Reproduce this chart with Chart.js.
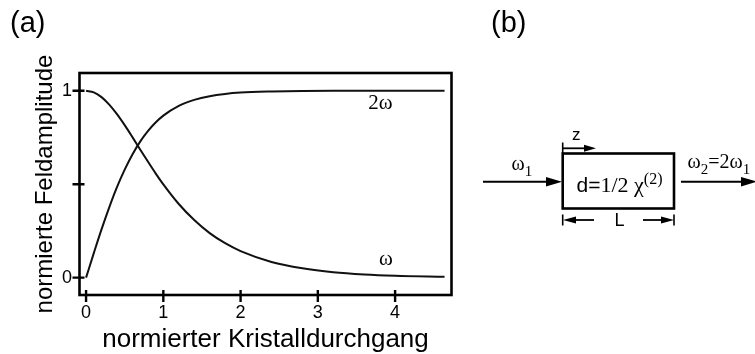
<!DOCTYPE html>
<html>
<head>
<meta charset="utf-8">
<script src="https://cdn.jsdelivr.net/npm/chart.js@4.4.1/dist/chart.umd.min.js"></script>
<style>
  html, body { margin: 0; padding: 0; background: #fff; }
  #wrap { position: relative; width: 755px; height: 354px; overflow: hidden; }
  #box { position: absolute; left: 0; top: 0; width: 460px; height: 354px; }
  #diagram { position: absolute; left: 0; top: 0; }
</style>
</head>
<body>
<div id="wrap">
  <div id="box"><canvas id="grafico"></canvas></div>
  <svg id="diagram" width="755" height="354" xmlns="http://www.w3.org/2000/svg">
    <text x="10" y="32" font-family="Liberation Sans, Arial, sans-serif" font-size="29">(a)</text>
    <text x="491" y="32" font-family="Liberation Sans, Arial, sans-serif" font-size="29">(b)</text>

    <!-- Kristall -->
    <rect x="562.7" y="153.5" width="111.3" height="55" fill="none" stroke="#000" stroke-width="2.6"/>
    <text x="576.5" y="192" font-family="Liberation Sans, Arial, sans-serif" font-size="21">d=<tspan font-family="Liberation Serif, Times New Roman, serif" font-size="22">1/2 χ</tspan><tspan font-family="Liberation Serif, Times New Roman, serif" font-size="16" dy="-8">(2)</tspan></text>

    <!-- z -->
    <text x="572" y="139.5" font-family="Liberation Sans, Arial, sans-serif" font-size="17">z</text>
    <line x1="562.7" y1="142.5" x2="562.7" y2="153" stroke="#000" stroke-width="1.6"/>
    <line x1="562.7" y1="148.3" x2="586" y2="148.3" stroke="#000" stroke-width="1.8"/>
    <polygon points="596,148.3 584,144.8 584,151.8" fill="#000"/>

    <!-- L -->
    <line x1="562.7" y1="214.5" x2="562.7" y2="225.5" stroke="#000" stroke-width="1.6"/>
    <polygon points="563,220 576,216.5 576,223.5" fill="#000"/>
    <line x1="575" y1="220" x2="594" y2="220" stroke="#000" stroke-width="1.8"/>
    <line x1="643" y1="220" x2="662" y2="220" stroke="#000" stroke-width="1.8"/>
    <polygon points="674,220 661,216.5 661,223.5" fill="#000"/>
    <line x1="674" y1="214.5" x2="674" y2="225.5" stroke="#000" stroke-width="1.6"/>
    <text x="614.5" y="225.5" font-family="Liberation Sans, Arial, sans-serif" font-size="18">L</text>

    <!-- Eingang -->
    <line x1="483" y1="181.7" x2="548" y2="181.7" stroke="#000" stroke-width="2"/>
    <polygon points="562,181.7 546,177 546,186.4" fill="#000"/>
    <text x="511.5" y="170" font-family="Liberation Serif, Times New Roman, serif" font-size="20">ω<tspan font-size="15" dy="6">1</tspan></text>

    <!-- Ausgang -->
    <line x1="681" y1="181.7" x2="742" y2="181.7" stroke="#000" stroke-width="2"/>
    <polygon points="757,181.7 741,177 741,186.4" fill="#000"/>
    <text x="687.5" y="168" font-family="Liberation Serif, Times New Roman, serif" font-size="20">ω<tspan font-size="15" dy="6">2</tspan><tspan dy="-6">=2ω</tspan><tspan font-size="15" dy="6">1</tspan></text>
  </svg>
</div>

<script>
// ── Daten ──────────────────────────────────────────────
var durchgang   = [0, 0.1, 0.2, 0.3, 0.4, 0.5, 0.6, 0.7, 0.8, 0.9, 1.0, 1.2, 1.4, 1.6, 1.8, 2.0, 2.4, 2.8, 3.2, 3.6, 4.0, 4.64];
var grundwelle  = [1.0, 0.991, 0.966, 0.926, 0.875, 0.816, 0.752, 0.686, 0.621, 0.558, 0.499, 0.394, 0.308, 0.238, 0.184, 0.142, 0.084, 0.05, 0.029, 0.017, 0.01, 0.004];
var harmonische = [0, 0.131, 0.258, 0.376, 0.484, 0.578, 0.659, 0.728, 0.784, 0.83, 0.867, 0.919, 0.951, 0.971, 0.983, 0.99, 0.996, 0.999, 1.0, 1.0, 1.0, 1.0];
var xTicks = [0, 1, 2, 3, 4];
var xTickLabels = ['0', '1', '2', '3', '4'];
var yTicks = [0, 0.5, 1];
var yTickLabels = ['0', '', '1'];

var SCHWARZ = '#000';
var LINIE   = '#111';

Chart.defaults.font.family = "'Liberation Sans', Arial, sans-serif";
Chart.defaults.color = SCHWARZ;

function punkte(ys) {
  return durchgang.map(function(x, i) { return { x: x, y: ys[i] }; });
}

// Rahmen + Tickstriche, die über die Achse greifen
var rahmen = {
  id: 'rahmen',
  afterDraw: function(chart) {
    var ctx = chart.ctx;
    var a = chart.chartArea;
    var sx = chart.scales.x, sy = chart.scales.y;
    ctx.save();
    ctx.strokeStyle = SCHWARZ;
    ctx.lineWidth = 2.6;
    ctx.strokeRect(a.left, a.top, a.right - a.left, a.bottom - a.top);
    ctx.lineWidth = 2.4;
    ctx.beginPath();
    xTicks.forEach(function(v) {
      var px = sx.getPixelForValue(v);
      ctx.moveTo(px, a.bottom - 5);
      ctx.lineTo(px, a.bottom + 7);
    });
    yTicks.forEach(function(v) {
      var py = sy.getPixelForValue(v);
      ctx.moveTo(a.left - 7, py);
      ctx.lineTo(a.left + 5, py);
    });
    ctx.stroke();

    // Kurvenbeschriftung
    ctx.fillStyle = SCHWARZ;
    ctx.font = "21px 'Liberation Serif', 'Times New Roman', serif";
    ctx.textAlign = 'center';
    ctx.textBaseline = 'alphabetic';
    ctx.fillText('2ω', sx.getPixelForValue(3.81), sy.getPixelForValue(0.90));
    ctx.fillText('ω', sx.getPixelForValue(3.88), sy.getPixelForValue(0.065));
    ctx.restore();
  }
};

new Chart(document.getElementById('grafico'), {
  type: 'line',
  data: {
    datasets: [{
      label: 'ω',
      data: punkte(grundwelle),
      borderColor: LINIE,
      borderWidth: 2,
      pointRadius: 0,
      cubicInterpolationMode: 'monotone',
      fill: false
    }, {
      label: '2ω',
      data: punkte(harmonische),
      borderColor: LINIE,
      borderWidth: 2,
      pointRadius: 0,
      cubicInterpolationMode: 'monotone',
      fill: false
    }]
  },
  plugins: [rahmen],
  options: {
    responsive: true,
    maintainAspectRatio: false,
    animation: false,
    layout: { padding: { top: 73, right: 8.5, left: 0, bottom: 0 } },
    plugins: {
      legend: { display: false },
      tooltip: { enabled: false }
    },
    scales: {
      x: {
        type: 'linear',
        min: -0.085,
        max: 4.73,
        grid: { display: false, drawTicks: false },
        border: { display: false },
        afterBuildTicks: function(s) { s.ticks = xTicks.map(function(v) { return { value: v }; }); },
        afterFit: function(s) { s.height = 59; },
        ticks: {
          padding: 7,
          font: { size: 18 },
          callback: function(v, i) { return xTickLabels[i]; }
        },
        title: {
          display: true,
          text: 'normierter Kristalldurchgang',
          font: { size: 26, lineHeight: 1.1 },
          padding: { top: 0, bottom: 0 }
        }
      },
      y: {
        min: -0.093,
        max: 1.095,
        grid: { display: false, drawTicks: false },
        border: { display: false },
        afterBuildTicks: function(s) { s.ticks = yTicks.map(function(v) { return { value: v }; }); },
        afterFit: function(s) { s.width = 79.5; },
        ticks: {
          padding: 7.5,
          font: { size: 18 },
          callback: function(v, i) { return yTickLabels[i]; }
        },
        title: {
          display: true,
          text: 'normierte Feldamplitude',
          font: { size: 24 },
          padding: { top: 31, bottom: 0 }
        }
      }
    }
  }
});
</script>
</body>
</html>
